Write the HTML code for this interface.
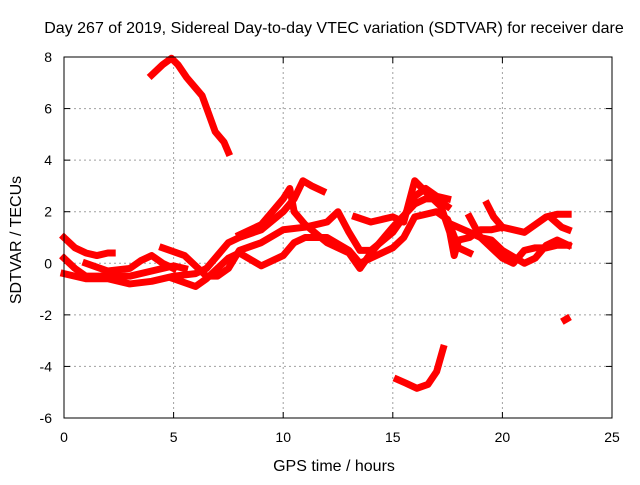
<!DOCTYPE html>
<html><head><meta charset="utf-8"><style>
body{margin:0;background:#fff}
svg text{font-family:"Liberation Sans",sans-serif;font-size:14px;fill:#000}
</style></head><body>
<svg id="c" width="640" height="480">
<text x="334" y="33" text-anchor="middle" style="font-size:16px">Day 267 of 2019, Sidereal Day-to-day VTEC variation (SDTVAR) for receiver dare</text>
<text x="334" y="471" text-anchor="middle" style="font-size:16px">GPS time / hours</text>
<text transform="translate(21,240) rotate(-90)" text-anchor="middle" style="font-size:16px">SDTVAR / TECUs</text>
<g id="grid"></g><g id="marks"></g>
<rect x="64" y="57" width="548" height="361" fill="none" stroke="#000" stroke-width="1"/>
</svg>
<script>
const xTicks=[0,5,10,15,20,25];
const yTicks=[-6,-4,-2,0,2,4,6,8];
const trackA=[[4.0,7.3],[4.5,7.7],[4.9,7.95],[5.2,7.7],[5.6,7.2],[6.0,6.8],[6.3,6.5],[6.6,5.8],[6.9,5.1],[7.3,4.7],[7.5,4.3]];
const trackB=[[15.2,-4.5],[15.6,-4.65],[16.1,-4.85],[16.6,-4.7],[17.0,-4.2],[17.3,-3.3]];
const trackC=[[22.85,-2.2],[22.95,-2.15]];
const track1=[[0,1.0],[0.5,0.6],[1,0.4],[1.5,0.3],[2,0.4],[2.2,0.4]];
const track2=[[0,0.2],[0.5,-0.2],[1,-0.5],[2,-0.5],[3,-0.5],[4,-0.3],[5,-0.1],[5.5,-0.2]];
const track3=[[0,-0.4],[1,-0.6],[2,-0.6],[3,-0.8],[4,-0.7],[5,-0.5],[6,-0.4],[6.5,-0.2],[7,0.3],[7.5,0.8],[8,1.0],[9,1.3],[10,2.0],[10.5,2.5],[10.9,3.2],[11.3,3.0],[11.8,2.8]];
const track4=[[1,0],[2,-0.3],[3,-0.2],[3.5,0.1],[4,0.3],[4.5,0],[5,-0.2]];
const track5=[[4.5,0.6],[5.5,0.3],[6,-0.1],[6.5,-0.5],[7,-0.5],[7.5,-0.2],[8,0.5],[9,0.8],[10,1.3],[11,1.4],[12,1.6],[12.5,2.0],[13,1.2],[13.5,0.5],[14,0.5],[15,1.2],[15.5,1.8],[16,2.6],[16.5,2.9],[17,2.6],[17.5,2.5]];
const track6=[[5,-0.6],[6,-0.9],[6.5,-0.6],[7,-0.2],[7.5,0.2],[8,0.4],[9,-0.1],[10,0.3],[10.5,0.8],[11,1.0],[12,1.0],[13,0.5],[13.5,0],[14,0.2],[15,0.6],[15.5,1.0],[16,1.8],[17,2.0],[17.5,1.7],[18,0.6],[18.5,0.4]];
const track7=[[8,1.1],[9,1.5],[9.5,2.0],[10,2.5],[10.3,2.9],[10.5,2.0],[11,1.5],[12,0.8],[13,0.4],[13.5,-0.2],[14,0.4],[15,1.4],[16,2.3],[16.5,2.5],[17,2.5],[17.5,2.2]];
const track8=[[13.3,1.8],[14,1.6],[15,1.8],[15.5,1.6],[16,3.2],[16.7,2.6],[17.2,2.2],[17.6,1.2],[17.8,0.3],[18,0.9],[18.5,1.0],[19,1.3],[19.5,1.3],[20,1.4],[21,1.2],[21.5,1.5],[22,1.8],[22.5,1.9],[23,1.9]];
const track9=[[17.7,1.5],[18.5,1.2],[19,1.0],[19.5,0.9],[20,0.5],[21,0],[21.5,0.2],[22,0.7],[22.5,0.9],[23,0.7]];
const track10=[[18.5,1.8],[19,1.0],[19.5,0.6],[20,0.2],[20.5,0],[21,0.5],[21.5,0.6],[22,0.6],[22.5,0.7],[23,0.7]];
const track11=[[19.3,2.3],[19.6,1.8],[20,1.4]];
const track12=[[22.3,1.7],[22.7,1.4],[23,1.3]];
const tracks=[trackA,trackB,trackC,track1,track2,track3,track4,track5,track6,track7,track8,track9,track10,track11,track12];
const X=t=>64+t*548/25, Y=v=>57+(8-v)*361/14;
const NS='http://www.w3.org/2000/svg';
const grid=document.getElementById('grid'),marks=document.getElementById('marks');
function mk(tag,at,parent){const e=document.createElementNS(NS,tag);for(const k in at)e.setAttribute(k,at[k]);parent.appendChild(e);return e;}
xTicks.forEach(t=>{const x=X(t);
 if(t>0&&t<25){const g=mk('line',{x1:x,x2:x,y1:57,y2:418,stroke:'#a0a0a0','stroke-dasharray':'2,3'},grid);
 
 }
 mk('line',{x1:x,x2:x,y1:418,y2:412,stroke:'#000'},grid);mk('line',{x1:x,x2:x,y1:57,y2:63,stroke:'#000'},grid);
 const l=mk('text',{x:x,y:442,'text-anchor':'middle'},grid);l.textContent=t;
 
 });
yTicks.forEach(v=>{const y=Y(v);
 if(v>-6&&v<8){const g=mk('line',{x1:64,x2:612,y1:y,y2:y,stroke:'#a0a0a0','stroke-dasharray':'2,3'},grid);
 
 }
 mk('line',{x1:64,x2:70,y1:y,y2:y,stroke:'#000'},grid);mk('line',{x1:606,x2:612,y1:y,y2:y,stroke:'#000'},grid);
 const l=mk('text',{x:52,y:y+5,'text-anchor':'end'},grid);l.textContent=v;
 
 });
tracks.forEach(tr=>{
 const p=mk('polyline',{points:tr.map(d=>X(d[0])+','+Y(d[1])).join(' '),fill:'none',stroke:'#ff0000','stroke-width':7,'stroke-linejoin':'round','stroke-linecap':'square'},marks);
 
 
});
</script>
</body></html>
